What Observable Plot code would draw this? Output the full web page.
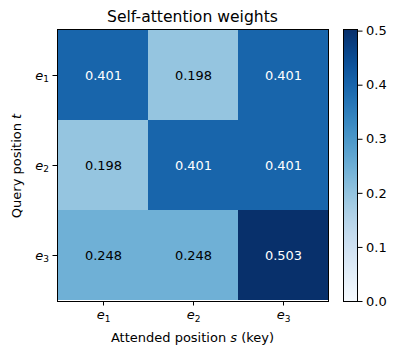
<!DOCTYPE html>
<html>
<head>
<meta charset="utf-8">
<script src="https://cdn.jsdelivr.net/npm/d3@7"></script>
<script src="https://cdn.jsdelivr.net/npm/@observablehq/plot@0.6"></script>
<style>
  html, body { margin: 0; padding: 0; background: white; color: black; }
  #wrap { position: relative; width: 396px; height: 355px; font-family: "DejaVu Sans", sans-serif; }
  #wrap svg { position: absolute; left: 0; top: 0; }
</style>
</head>
<body>
<div id="wrap"></div>
<script>
// ---- data ----
const keyPositions = ["e1", "e2", "e3"];     // attended position s (columns)
const queryPositions = ["e1", "e2", "e3"];   // query position t (rows)
const weights = [
  [0.401, 0.198, 0.401],
  [0.198, 0.401, 0.401],
  [0.248, 0.248, 0.503]
];
const colorMin = 0;
const colorMax = 0.503;
const colorbarTicks = [0, 0.1, 0.2, 0.3, 0.4, 0.5];
const titleText = "Self-attention weights";

const cells = [];
queryPositions.forEach((q, i) => keyPositions.forEach((k, j) => cells.push({q, k, w: weights[i][j]})));

const W = 396, H = 355;
const font = "DejaVu Sans";
const colorScale = {type: "linear", scheme: "blues", domain: [colorMin, colorMax]};

const main = Plot.plot({
  width: W, height: H,
  marginLeft: 57, marginRight: 68, marginTop: 29, marginBottom: 54,
  style: {fontFamily: font, fontSize: "13px", background: "transparent", color: "black"},
  x: {domain: keyPositions, padding: 0, label: null},
  y: {domain: queryPositions, padding: 0, label: null},
  color: colorScale,
  marks: [
    Plot.cell(cells, {x: "k", y: "q", fill: "w", inset: 0}),
    Plot.text(cells.filter(d => d.w > 0.3), {x: "k", y: "q", text: d => d3.format(".3f")(d.w), fill: "white", fontSize: 13}),
    Plot.text(cells.filter(d => d.w <= 0.3), {x: "k", y: "q", text: d => d3.format(".3f")(d.w), fill: "black", fontSize: 13}),
    Plot.frame({stroke: "black", strokeWidth: 1}),
    Plot.axisX({anchor: "bottom", tickSize: 4.5, tickPadding: 4, fontSize: 13, label: null}),
    Plot.axisY({anchor: "left", tickSize: 4.5, tickPadding: 4, fontSize: 13, label: null})
  ]
});

const colorbar = Plot.plot({
  width: W, height: H,
  marginLeft: 343, marginRight: 39, marginTop: 29, marginBottom: 54,
  style: {fontFamily: font, fontSize: "13px", background: "transparent", color: "black"},
  x: {domain: [0, 1], axis: null},
  y: {domain: [colorMin, colorMax], label: null},
  color: colorScale,
  marks: [
    Plot.raster({fill: (x, y) => y, x1: 0, x2: 1, y1: colorMin, y2: colorMax, width: 1, height: 272, imageRendering: "auto"}),
    Plot.frame({stroke: "black", strokeWidth: 1}),
    Plot.axisY({anchor: "right", ticks: colorbarTicks, tickFormat: d3.format(".1f"), tickSize: 4.5, tickPadding: 4, fontSize: 13, label: null})
  ]
});

const wrap = document.getElementById("wrap");
wrap.appendChild(main);
wrap.appendChild(colorbar);

// italic e with upright subscript digit on tick labels
for (const axis of ["x", "y"]) {
  d3.select(main).selectAll(`g[aria-label="${axis}-axis tick label"] text`).each(function() {
    const label = this.textContent;
    const t = d3.select(this);
    t.text(null);
    t.append("tspan").attr("font-style", "italic").text(label[0]);
    t.append("tspan").attr("font-size", "9px").attr("dy", "0.3em").text(label.slice(1));
  });
}

const svg = d3.select(main);
svg.append("text")
  .attr("x", 192.5).attr("y", 21.5)
  .attr("text-anchor", "middle")
  .attr("font-size", 15.6)
  .attr("fill", "black")
  .text(titleText);

const xl = svg.append("text")
  .attr("x", 192.5).attr("y", 341.5)
  .attr("text-anchor", "middle")
  .attr("font-size", 13)
  .attr("fill", "black");
xl.append("tspan").text("Attended position ");
xl.append("tspan").attr("font-style", "italic").text("s");
xl.append("tspan").text(" (key)");

const yl = svg.append("text")
  .attr("transform", "translate(21,166) rotate(-90)")
  .attr("text-anchor", "middle")
  .attr("font-size", 13)
  .attr("fill", "black");
yl.append("tspan").text("Query position ");
yl.append("tspan").attr("font-style", "italic").text("t");
</script>
</body>
</html>
